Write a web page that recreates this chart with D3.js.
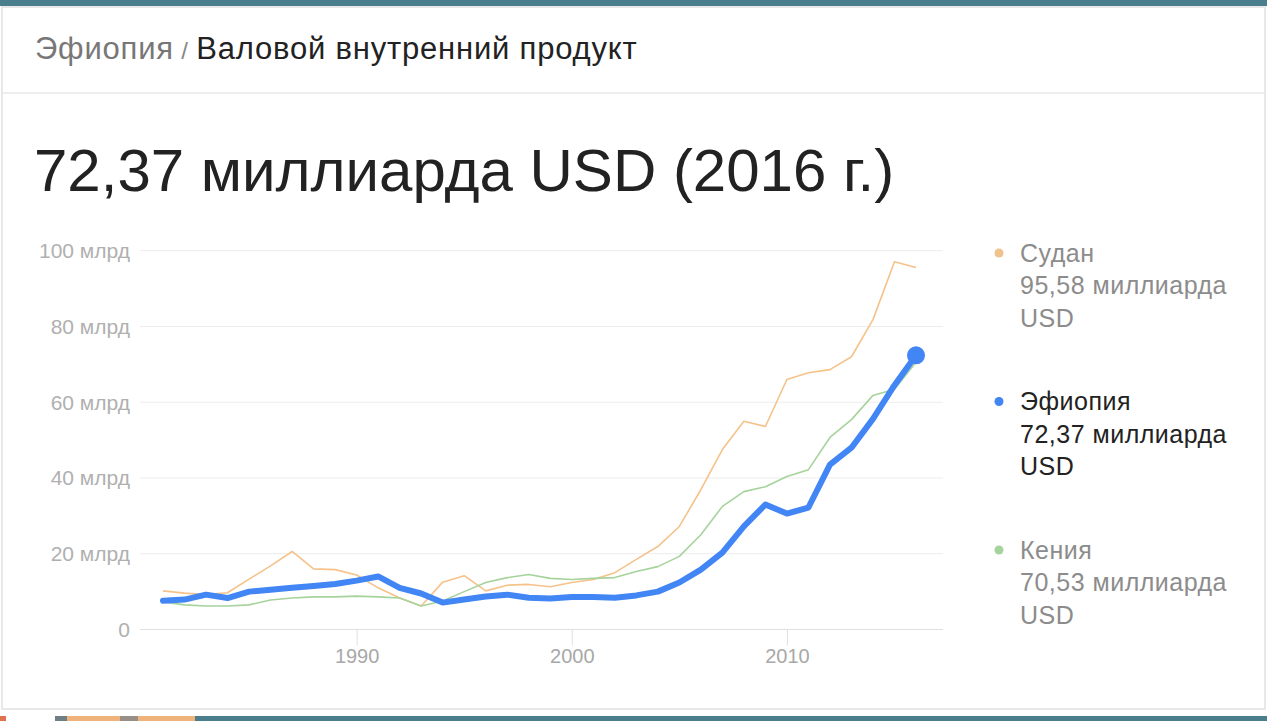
<!DOCTYPE html>
<html>
<head>
<meta charset="utf-8">
<script src="https://cdn.jsdelivr.net/npm/d3@7"></script>
<style>
  html, body { margin: 0; padding: 0; background: #fff; }
  svg { display: block; font-family: "Liberation Sans", Arial, sans-serif; }
</style>
</head>
<body>
<svg width="1267" height="721"></svg>
<script>
(function () {
  var years = d3.range(1981, 2017);
  var sudan = [10.2, 9.6, 9.2, 9.7, 13.3, 16.8, 20.6, 16.0, 15.8, 14.4, 11.0, 8.3, 6.2, 12.5, 14.2, 10.2, 11.7, 11.9, 11.3, 12.4, 13.2, 15.0, 18.5, 21.9, 27.2, 36.9, 47.5, 55.0, 53.6, 66.0, 67.8, 68.6, 72.0, 81.8, 97.1, 95.58];
  var ethiopia = [7.6, 7.9, 9.2, 8.3, 10.0, 10.5, 11.0, 11.5, 12.0, 12.9, 14.0, 11.0, 9.5, 7.1, 7.9, 8.7, 9.2, 8.4, 8.2, 8.6, 8.6, 8.4, 9.0, 10.0, 12.4, 15.8, 20.3, 27.2, 33.0, 30.6, 32.2, 43.5, 48.0, 55.6, 64.5, 72.37];
  var kenya = [7.3, 6.5, 6.2, 6.2, 6.5, 7.8, 8.3, 8.6, 8.6, 8.8, 8.6, 8.3, 6.2, 7.5, 10.0, 12.4, 13.7, 14.5, 13.5, 13.2, 13.5, 13.7, 15.3, 16.6, 19.3, 25.0, 32.5, 36.4, 37.7, 40.4, 42.2, 50.7, 55.4, 61.8, 63.4, 70.53];
  var yTicks = [0, 20, 40, 60, 80, 100];
  var xTicks = [1990, 2000, 2010];
  var legendNames = ["Судан", "Эфиопия", "Кения"];
  var legendValues = ["95,58 миллиарда", "72,37 миллиарда", "70,53 миллиарда"];

  var svg = d3.select('svg');

  // page chrome
  svg.append('rect').attr('x', 0).attr('y', 0).attr('width', 1267).attr('height', 6).attr('fill', '#4b7e8d');
  svg.append('rect').attr('x', 2).attr('y', 7).attr('width', 1263).attr('height', 702)
    .attr('fill', '#fff').attr('stroke', '#e8e8e8').attr('stroke-width', 2);
  svg.append('line').attr('x1', 3).attr('x2', 1264).attr('y1', 93).attr('y2', 93)
    .attr('stroke', '#eeeeee').attr('stroke-width', 2);
  svg.append('rect').attr('x', 0).attr('y', 716).attr('width', 1267).attr('height', 5).attr('fill', '#4b7e8d');
  svg.append('rect').attr('x', 0).attr('y', 716).attr('width', 70).attr('height', 5).attr('fill', '#fff');
  svg.append('rect').attr('x', 0).attr('y', 716).attr('width', 6).attr('height', 5).attr('fill', '#e07050');
  svg.append('rect').attr('x', 55).attr('y', 716).attr('width', 12).attr('height', 5).attr('fill', '#6e7f86');
  svg.append('rect').attr('x', 67).attr('y', 716).attr('width', 128).attr('height', 5).attr('fill', '#eeb27a');
  svg.append('rect').attr('x', 120).attr('y', 716).attr('width', 18).attr('height', 5).attr('fill', '#9a8f86');

  // breadcrumb
  var crumb = svg.append('text').attr('x', 35).attr('y', 59).attr('font-size', 31).attr('letter-spacing', 0.8);
  crumb.append('tspan').attr('fill', '#777').text('Эфиопия');
  crumb.append('tspan').attr('fill', '#888').attr('font-size', 24).text(' / ');
  crumb.append('tspan').attr('fill', '#222').text('Валовой внутренний продукт');

  // headline
  svg.append('text').attr('x', 34).attr('y', 191).attr('font-size', 60).attr('fill', '#222')
    .text('72,37 миллиарда USD (2016 г.)');

  var x = d3.scaleLinear().domain([1981, 2016]).range([163, 916]);
  var y = d3.scaleLinear().domain([0, 100]).range([629.5, 250.7]);

  // grid + y labels
  var grid = svg.append('g');
  grid.selectAll('line').data(yTicks).enter().append('line')
    .attr('x1', 140).attr('x2', 943)
    .attr('y1', d => y(d)).attr('y2', d => y(d))
    .attr('stroke', d => d === 0 ? '#e0e0e0' : '#ececec').attr('stroke-width', 1);
  grid.selectAll('text').data(yTicks).enter().append('text')
    .attr('x', 130).attr('y', d => y(d)).attr('dy', '0.35em')
    .attr('text-anchor', 'end').attr('font-size', 21).attr('fill', '#b0b0b0')
    .text(d => d === 0 ? '0' : d + ' млрд');

  // x axis
  var xAxis = svg.append('g').attr('transform', 'translate(0,' + y(0) + ')')
    .call(d3.axisBottom(x).tickValues(xTicks).tickFormat(d3.format('d')).tickSize(16).tickPadding(3));
  xAxis.select('.domain').remove();
  xAxis.selectAll('.tick line').attr('stroke', '#e0e0e0');
  xAxis.selectAll('.tick text').attr('font-size', 20).attr('fill', '#a8a8a8')
    .attr('font-family', '"Liberation Sans", Arial, sans-serif');

  var line = d3.line().x((d, i) => x(years[i])).y(d => y(d));

  svg.append('path').datum(sudan).attr('d', line).attr('fill', 'none')
    .attr('stroke', '#f5c28a').attr('stroke-width', 1.6).attr('stroke-linejoin', 'round');
  svg.append('path').datum(kenya).attr('d', line).attr('fill', 'none')
    .attr('stroke', '#a6d39c').attr('stroke-width', 1.6).attr('stroke-linejoin', 'round');
  svg.append('path').datum(ethiopia).attr('d', line).attr('fill', 'none')
    .attr('stroke', '#4285f4').attr('stroke-width', 6).attr('stroke-linejoin', 'round').attr('stroke-linecap', 'round');
  svg.append('circle').attr('cx', x(2016)).attr('cy', y(ethiopia[ethiopia.length - 1]))
    .attr('r', 9).attr('fill', '#4285f4');

  // legend
  var colors = ['#f0c28e', '#4285f4', '#a6d39c'];
  var textColors = ['#8c8c8c', '#222', '#8c8c8c'];
  var leg = svg.append('g').selectAll('g').data(legendNames).enter().append('g')
    .attr('transform', (d, i) => 'translate(0,' + (253 + i * 148.5) + ')');
  leg.append('circle').attr('cx', 999).attr('cy', 0).attr('r', 4.5).attr('fill', (d, i) => colors[i]);
  var lt = leg.append('text').attr('x', 1020).attr('y', 0).attr('dy', '0.35em')
    .attr('font-size', 25).attr('letter-spacing', 0.5).attr('fill', (d, i) => textColors[i]);
  lt.append('tspan').attr('x', 1020).text(d => d);
  lt.append('tspan').attr('x', 1020).attr('dy', 32.5).text((d, i) => legendValues[i]);
  lt.append('tspan').attr('x', 1020).attr('dy', 32.5).text('USD');
})();
</script>
</body>
</html>
